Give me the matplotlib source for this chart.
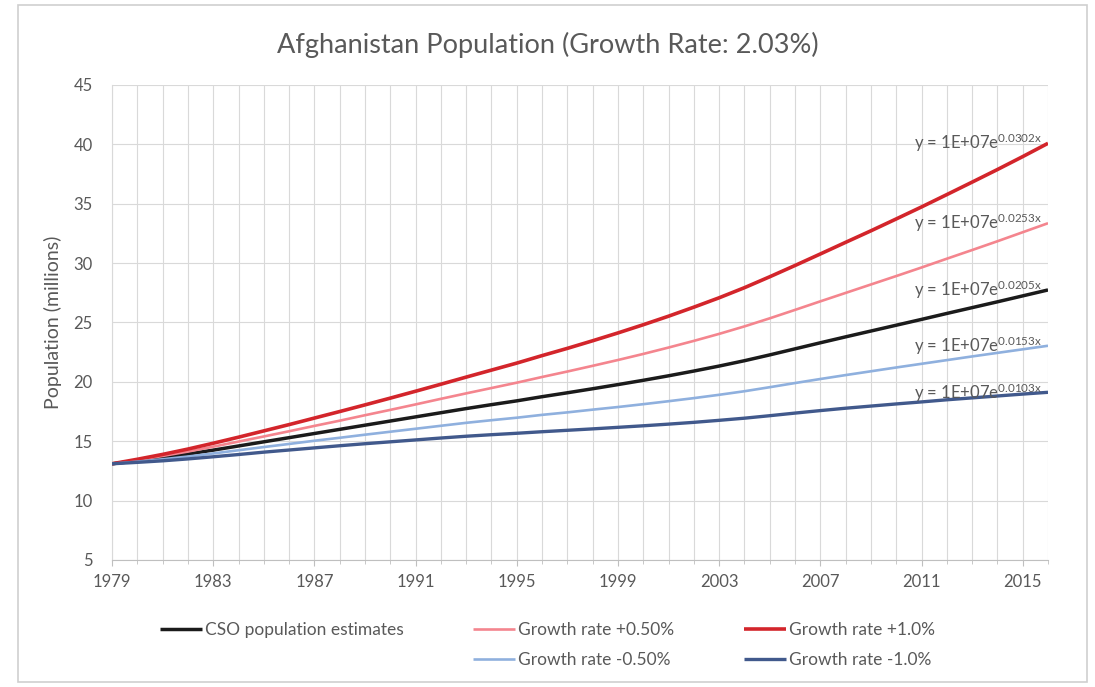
import matplotlib
matplotlib.use("Agg")
import matplotlib.pyplot as plt
from matplotlib.lines import Line2D
from matplotlib.patches import Rectangle
from matplotlib.ticker import MultipleLocator, FixedLocator

plt.rcParams['font.family'] = ['Lato', 'DejaVu Sans']
plt.rcParams['mathtext.default'] = 'regular'

years = list(range(1979, 2017))

cso = [13.10, 13.35, 13.62, 13.92, 14.25, 14.60, 14.95, 15.30, 15.65, 16.00,
       16.35, 16.70, 17.05, 17.40, 17.75, 18.08, 18.40, 18.75, 19.08, 19.42,
       19.77, 20.13, 20.51, 20.91, 21.33, 21.78, 22.27, 22.78, 23.29, 23.79,
       24.28, 24.77, 25.26, 25.76, 26.25, 26.74, 27.24, 27.74]

plus_half = [13.10, 13.42, 13.76, 14.13, 14.54, 14.97, 15.40, 15.84, 16.29, 16.73,
             17.19, 17.64, 18.10, 18.57, 19.03, 19.48, 19.93, 20.41, 20.87, 21.35,
             21.84, 22.35, 22.89, 23.45, 24.04, 24.67, 25.35, 26.06, 26.78, 27.49,
             28.20, 28.91, 29.63, 30.37, 31.10, 31.84, 32.60, 33.36]

plus_one = [13.10, 13.48, 13.89, 14.34, 14.83, 15.34, 15.87, 16.40, 16.95, 17.50,
            18.06, 18.63, 19.21, 19.80, 20.40, 20.99, 21.58, 22.21, 22.82, 23.46,
            24.12, 24.81, 25.53, 26.29, 27.08, 27.93, 28.85, 29.80, 30.77, 31.75,
            32.72, 33.72, 34.73, 35.77, 36.82, 37.88, 38.97, 40.09]

minus_half = [13.10, 13.28, 13.48, 13.71, 13.97, 14.24, 14.51, 14.77, 15.04, 15.29,
              15.55, 15.80, 16.05, 16.30, 16.55, 16.77, 16.98, 17.22, 17.43, 17.66,
              17.88, 18.12, 18.37, 18.63, 18.91, 19.21, 19.55, 19.90, 20.24, 20.57,
              20.89, 21.21, 21.52, 21.83, 22.14, 22.44, 22.74, 23.04]

minus_one = [13.10, 13.22, 13.35, 13.51, 13.69, 13.88, 14.08, 14.26, 14.44, 14.62,
             14.79, 14.95, 15.11, 15.27, 15.42, 15.55, 15.67, 15.80, 15.92, 16.04,
             16.17, 16.30, 16.44, 16.59, 16.76, 16.94, 17.15, 17.37, 17.58, 17.78,
             17.96, 18.14, 18.31, 18.49, 18.65, 18.81, 18.97, 19.12]

series_labels = ["CSO population estimates", "Growth rate +0.50%", "Growth rate +1.0%",
                 "Growth rate -0.50%", "Growth rate -1.0%"]
trend_exponents = ["0.0205", "0.0253", "0.0302", "0.0153", "0.0103"]

year_ticks = list(range(1979, 2016, 4))
y_ticks = [5, 10, 15, 20, 25, 30, 35, 40, 45]

colors = ["#1b1b1b", "#f4858e", "#d3252b", "#8fb0de", "#41598c"]
widths = [2.5, 1.9, 2.6, 1.9, 2.4]
text_col = "#595959"
grid_col = "#d9d9d9"

fig = plt.figure(figsize=(10.95, 6.87), dpi=100)
fig.patch.set_facecolor("white")
fig.add_artist(Rectangle((0.016, 0.008), 0.977, 0.985, transform=fig.transFigure,
                         fill=False, edgecolor="#cfcfcf", linewidth=1.2))

ax = fig.add_axes([0.1023, 0.1849, 0.8548, 0.6914])

all_series = [cso, plus_half, plus_one, minus_half, minus_one]
handles = []
for vals, lab, c, w in zip(all_series, series_labels, colors, widths):
    h, = ax.plot(years, vals, color=c, linewidth=w, label=lab,
                 solid_capstyle="butt", zorder=3)
    handles.append(h)

# trendline equations near the right end of each series
for vals, expo in zip(all_series, trend_exponents):
    ax.text(2015.75, vals[-1], "y = 1E+07e$^{%sx}$" % expo, ha="right", va="center",
            fontsize=12, color=text_col, zorder=4)

ax.set_xlim(years[0], years[-1])
ax.set_ylim(5, 45)
ax.xaxis.set_major_locator(FixedLocator(year_ticks))
ax.xaxis.set_minor_locator(MultipleLocator(1))
ax.set_yticks(y_ticks)
ax.grid(True, which="both", axis="x", color=grid_col, linewidth=0.8, zorder=0)
ax.grid(True, which="major", axis="y", color=grid_col, linewidth=0.8, zorder=0)

for side in ["top", "right"]:
    ax.spines[side].set_visible(False)
ax.spines["left"].set_color(grid_col)
ax.spines["bottom"].set_color("#bfbfbf")
ax.tick_params(axis="y", length=0, pad=14, labelsize=12, labelcolor=text_col)
ax.tick_params(axis="x", which="major", length=4, color="#bfbfbf", pad=6,
               labelsize=12, labelcolor=text_col)
ax.tick_params(axis="x", which="minor", length=3, color="#bfbfbf")

ax.set_ylabel("Population (millions)", fontsize=14, color=text_col, labelpad=8)
fig.text(0.5, 0.934, "Afghanistan Population (Growth Rate: 2.03%)", ha="center",
         va="center", fontsize=19.5, color=text_col)

blank = Line2D([], [], color="none")
leg_handles = [handles[0], blank, handles[1], handles[3], handles[2], handles[4]]
leg_labels = [series_labels[0], "", series_labels[1], series_labels[3],
              series_labels[2], series_labels[4]]
fig.legend(leg_handles, leg_labels, ncol=3, loc="center", bbox_to_anchor=(0.5, 0.061),
           frameon=False, fontsize=12.5, labelcolor=text_col, handlelength=2.4,
           handletextpad=0.2, columnspacing=4.0, labelspacing=0.85)

fig.savefig("out.png", dpi=100, facecolor="white")
